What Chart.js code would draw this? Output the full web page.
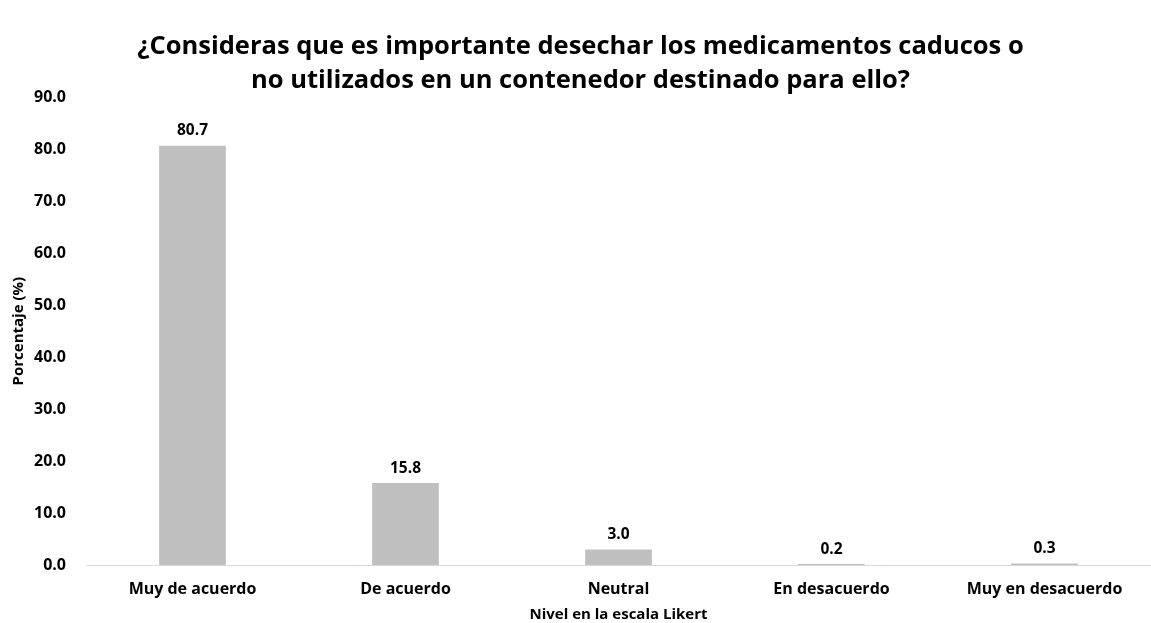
<!DOCTYPE html>
<html>
<head>
<meta charset="utf-8">
<script src="https://cdn.jsdelivr.net/npm/chart.js@4.4.1/dist/chart.umd.min.js"></script>
<style>
  html, body { margin: 0; padding: 0; background: #fff; }
  #wrap { width: 1151px; height: 623px; }
</style>
</head>
<body>
<div id="wrap"><canvas id="likertChart"></canvas></div>
<script>
// Likert answers and their share of respondents (%)
const categories = ['Muy de acuerdo', 'De acuerdo', 'Neutral', 'En desacuerdo', 'Muy en desacuerdo'];
const percentages = [80.7, 15.8, 3.0, 0.2, 0.3];
const yTicks = [0, 10, 20, 30, 40, 50, 60, 70, 80, 90];

const FONT = "'Open Sans', 'Liberation Sans', sans-serif";

// Draws the value above each bar
const valueLabels = {
  id: 'valueLabels',
  afterDatasetsDraw(chart) {
    const ctx = chart.ctx;
    const meta = chart.getDatasetMeta(0);
    ctx.save();
    ctx.font = 'bold 15.5px ' + FONT;
    ctx.fillStyle = '#000';
    ctx.textAlign = 'center';
    ctx.textBaseline = 'bottom';
    meta.data.forEach((bar, i) => {
      ctx.fillText(percentages[i].toFixed(1), bar.x, bar.y - 7);
    });
    ctx.restore();
  }
};

document.addEventListener('DOMContentLoaded', function() {
  const ctx = document.getElementById('likertChart').getContext('2d');

  new Chart(ctx, {
    type: 'bar',
    data: {
      labels: categories,
      datasets: [{
        data: percentages,
        backgroundColor: '#bfbfbf',
        borderWidth: 0,
        categoryPercentage: 1,
        barPercentage: 0.313
      }]
    },
    options: {
      responsive: true,
      maintainAspectRatio: false,
      animation: false,
      layout: {
        padding: { top: 0, right: 0, bottom: 0, left: 10 }
      },
      scales: {
        x: {
          grid: { display: false },
          border: { display: true, color: '#d9d9d9', width: 1 },
          ticks: {
            color: '#000',
            font: { family: FONT, size: 16, weight: 'bold' },
            padding: 7,
            maxRotation: 0
          },
          title: {
            display: true,
            text: 'Nivel en la escala Likert',
            color: '#000',
            font: { family: FONT, size: 15, weight: 'bold', lineHeight: 1.05 },
            padding: { top: 1, bottom: 0 }
          }
        },
        y: {
          min: 0,
          max: 90,
          afterBuildTicks(scale) {
            scale.ticks = yTicks.map(v => ({ value: v }));
          },
          afterFit(scale) {
            scale.width = 76;
          },
          grid: { display: false },
          border: { display: false },
          ticks: {
            color: '#000',
            font: { family: FONT, size: 16, weight: 'bold' },
            padding: 12,
            callback: v => Number(v).toFixed(1)
          },
          title: {
            display: true,
            text: 'Porcentaje (%)',
            color: '#000',
            font: { family: FONT, size: 15, weight: 'bold' },
            padding: { top: 0, bottom: 0 }
          }
        }
      },
      plugins: {
        legend: { display: false },
        tooltip: { enabled: false },
        title: {
          display: true,
          text: ['¿Consideras que es importante desechar los medicamentos caducos o',
                 'no utilizados en un contenedor destinado para ello?'],
          color: '#000',
          font: { family: FONT, size: 25.5, weight: 'bold', lineHeight: 1.32 },
          padding: { top: 30, bottom: 0 }
        }
      }
    },
    plugins: [valueLabels]
  });
});
</script>
</body>
</html>
